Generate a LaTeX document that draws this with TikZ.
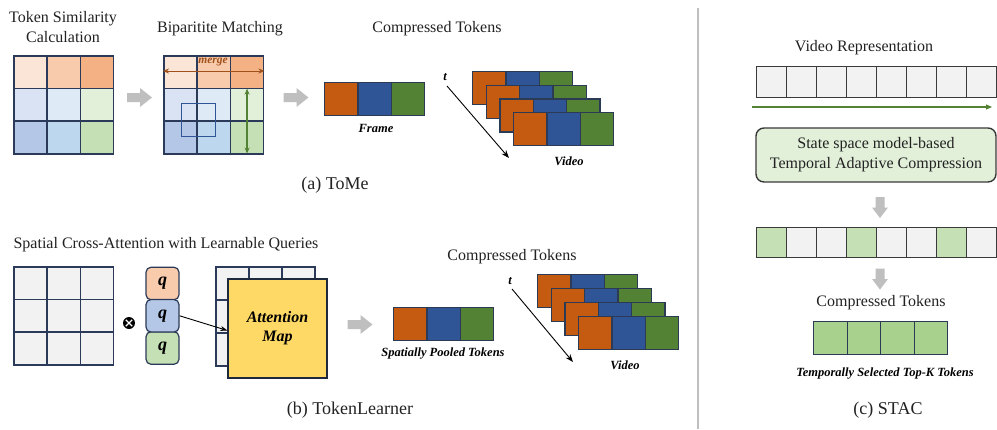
\documentclass[tikz,border=0pt]{standalone}
\usepackage{fontspec}
\setmainfont{Liberation Serif}
\usetikzlibrary{arrows.meta,calc}
\definecolor{pA}{HTML}{FBE5D6}
\definecolor{pB}{HTML}{F8CBAD}
\definecolor{pC}{HTML}{F4B183}
\definecolor{bA}{HTML}{DAE3F3}
\definecolor{bB}{HTML}{DEEBF7}
\definecolor{gA}{HTML}{E2F0D9}
\definecolor{bC}{HTML}{B4C7E7}
\definecolor{bD}{HTML}{BDD7EE}
\definecolor{gB}{HTML}{C5E0B4}
\definecolor{orng}{HTML}{C55A11}
\definecolor{blu}{HTML}{2F5597}
\definecolor{grn}{HTML}{548235}
\definecolor{gridc}{HTML}{2B3A58}
\definecolor{tokc}{HTML}{2B3A55}
\definecolor{lgrey}{HTML}{F2F2F2}
\definecolor{arrg}{HTML}{BFBFBF}
\definecolor{yel}{HTML}{FFD966}
\definecolor{selg}{HTML}{A9D18E}
\definecolor{mergec}{HTML}{A0501A}
\definecolor{txt}{HTML}{222222}
\definecolor{dk}{HTML}{3A3A3A}
\begin{document}
\begin{tikzpicture}[x=1pt,y=-1pt,
  hdr/.style={font=\fontsize{16}{20}\selectfont, text=txt, inner sep=0, align=center},
  captxt/.style={font=\fontsize{18}{20}\selectfont, text=txt, inner sep=0},
  lbl/.style={font=\bfseries\itshape\fontsize{12.5}{14}\selectfont, inner sep=0},
  cell/.style={draw=gridc, line width=1.5pt, minimum width=33.33pt, minimum height=32.67pt, inner sep=0, anchor=north west},
  tok/.style={draw=tokc, line width=1.3pt, minimum width=33.33pt, minimum height=33pt, inner sep=0, anchor=north west},
  scell/.style={draw=dk, line width=1.4pt, minimum width=30pt, minimum height=31pt, inner sep=0, anchor=north west},
  qbox/.style={draw=gridc, line width=1.2pt, rounded corners=5pt, minimum width=33pt, minimum height=32.5pt, inner sep=0, font=\bfseries\itshape\fontsize{18}{18}\selectfont},
  tarrow/.style={-{Stealth[length=8pt,width=6pt]}, line width=0.9pt, black},
  rarrow/.pic={\fill[arrg] (-12.5,-4.5) -- (0.5,-4.5) -- (0.5,-9.5) -- (12.5,0) -- (0.5,9.5) -- (0.5,4.5) -- (-12.5,4.5) -- cycle;},
  darrow/.pic={\fill[arrg] (-4.5,-10.5) -- (4.5,-10.5) -- (4.5,0) -- (8,0) -- (0,10.5) -- (-8,0) -- (-4.5,0) -- cycle;}
]
\useasboundingbox (0,0) rectangle (997,429);
\fill[white] (0,0) rectangle (997,429);

% ---------------- (a) ToMe ----------------
\node[hdr] (h1) at (63,27) {Token Similarity\\Calculation};
\foreach \r/\c/\col in {1/1/pA,1/2/pB,1/3/pC,2/1/bA,2/2/bB,2/3/gA,3/1/bC,3/2/bD,3/3/gB}{
  \node[cell, fill=\col] (g1-\r-\c) at ({13+(\c-1)*33.33},{55+(\r-1)*32.67}) {};
}
\pic at (139.5,97.5) {rarrow};
\node[hdr] (h2) at (220,29) {Biparitite Matching};
\foreach \r/\c/\col in {1/1/pA,1/2/pB,1/3/pC,2/1/bA,2/2/bB,2/3/gA,3/1/bC,3/2/bD,3/3/gB}{
  \node[cell, fill=\col] (g2-\r-\c) at ({163+(\c-1)*33.33},{55+(\r-1)*32.67}) {};
}
\node[draw=blu, line width=1.4pt, minimum width=34pt, minimum height=33pt, inner sep=0, anchor=north west] (win) at (181,103) {};
\coordinate (m0) at (g2-1-1.west |- 0,71);
\coordinate (m1) at (g2-1-3.east |- 0,71);
\draw[{Stealth[length=6pt,width=5pt]}-{Stealth[length=6pt,width=5pt]}, mergec, line width=1pt] (m0) -- (m1);
\node[lbl, text=mergec, font=\bfseries\itshape\fontsize{11.5}{12}\selectfont] (mg) at (213,62) {merge};
\draw[{Stealth[length=6pt,width=5pt]}-{Stealth[length=6pt,width=5pt]}, grn, line width=1.2pt] ($(g2-2-3.north)+(0,1)$) -- ($(g2-3-3.south)+(0,-1)$);
\pic at (296,97.5) {rarrow};

\node[hdr] (h3) at (437,29) {Compressed Tokens};
\node[tok, fill=orng] (fa1) at (324,82) {};
\node[tok, fill=blu] (fa2) at (357.33,82) {};
\node[tok, fill=grn] (fa3) at (390.67,82) {};
\node[lbl] (fr) at (376,128) {Frame};

\node[lbl] (ta) at (445,77) {t};
\coordinate (ta0) at (447,86);
\coordinate (ta1) at (509,158);
\draw[tarrow] (ta0) -- (ta1);
\foreach \k in {0,1,2,3}{
  \node[tok, fill=orng] (va\k-1) at ({472+13.7*\k},{71+13.7*\k}) {};
  \node[tok, fill=blu] (va\k-2) at ({505.33+13.7*\k},{71+13.7*\k}) {};
  \node[tok, fill=grn] (va\k-3) at ({538.67+13.7*\k},{71+13.7*\k}) {};
}
\node[lbl] (vd1) at (569,161) {Video};
\node[captxt] (ca) at (335,185) {(a) ToMe};

% ---------------- (b) TokenLearner ----------------
\node[hdr] (h4) at (166,245) {Spatial Cross-Attention with Learnable Queries};
\foreach \r in {1,2,3}{\foreach \c in {1,2,3}{
  \node[cell, fill=lgrey] (g3-\r-\c) at ({13+(\c-1)*33.33},{266+(\r-1)*32.67}) {};
}}
\node[circle, fill=black, minimum size=12pt, inner sep=0] (ot) at (129,323) {};
\draw[white, line width=1.3pt] ($(ot.center)+(-3.2,-3.2)$) -- ($(ot.center)+(3.2,3.2)$);
\draw[white, line width=1.3pt] ($(ot.center)+(-3.2,3.2)$) -- ($(ot.center)+(3.2,-3.2)$);
\node[qbox, fill=pB] (q1) at (162.5,283.5) {q};
\node[qbox, fill=gB] (q3) at (162.5,348) {q};
\node[qbox, fill=bC] (q2) at (162.5,315.8) {q};
\foreach \r in {1,2,3}{\foreach \c in {1,2,3}{
  \node[cell, fill=lgrey, minimum width=33pt, minimum height=33pt] (g4-\r-\c) at ({215+(\c-1)*33},{266+(\r-1)*33}) {};
}}
\node[draw=gridc!70!black, line width=1.2pt, fill=yel, minimum width=99pt, minimum height=99pt, inner sep=0, align=center, font=\bfseries\itshape\fontsize{16}{19}\selectfont] (att) at (277.5,328.5) {Attention\\Map};
\draw[-{Stealth[length=7pt,width=5pt]}, line width=0.9pt, black] (q2.east) -- ($(att.west)+(0,2)$);
\pic at (360,324.5) {rarrow};
\node[tok, fill=orng] (fb1) at (393,307) {};
\node[tok, fill=blu] (fb2) at (426.33,307) {};
\node[tok, fill=grn] (fb3) at (459.67,307) {};
\node[lbl] (sp) at (443,354) {Spatially Pooled Tokens};
\node[hdr] (h5) at (512,257) {Compressed Tokens};
\node[lbl] (tb) at (510,281) {t};
\coordinate (tb0) at (512,289);
\coordinate (tb1) at (573,362);
\draw[tarrow] (tb0) -- (tb1);
\foreach \k in {0,1,2,3}{
  \node[tok, fill=orng] (vb\k-1) at ({537+13.7*\k},{274+14*\k}) {};
  \node[tok, fill=blu] (vb\k-2) at ({570.33+13.7*\k},{274+14*\k}) {};
  \node[tok, fill=grn] (vb\k-3) at ({603.67+13.7*\k},{274+14*\k}) {};
}
\node[lbl] (vd2) at (625,365) {Video};
\node[captxt] (cb) at (350,410) {(b) TokenLearner};

% ---------------- divider ----------------
\coordinate (dv0) at (698,8);
\coordinate (dv1) at (698,429);
\draw[arrg, line width=2pt] (dv0) -- (dv1);

% ---------------- (c) STAC ----------------
\node[hdr] (h6) at (864,48) {Video Representation};
\foreach \i in {1,...,8}{
  \node[scell, fill=lgrey] (r1-\i) at ({756+(\i-1)*30},66) {};
}
\coordinate (ga0) at (752,107);
\coordinate (ga1) at (992,107);
\draw[-{Triangle[length=6pt,width=5pt]}, grn, line width=1.1pt] (ga0) -- (ga1);
\node[draw=dk, line width=1.4pt, fill=gA, rounded corners=8pt, minimum width=240pt, minimum height=54pt, inner sep=0, align=center, font=\fontsize{16}{20}\selectfont, text=txt] (ssm) at (876,155) {State space model-based\\Temporal Adaptive Compression};
\pic at (880,207.5) {darrow};
\foreach \i/\col in {1/gB,2/lgrey,3/lgrey,4/gB,5/lgrey,6/lgrey,7/gB,8/lgrey}{
  \node[scell, fill=\col, minimum height=30pt] (r2-\i) at ({756+(\i-1)*30},227) {};
}
\pic at (880,279) {darrow};
\node[hdr] (h7) at (881,303) {Compressed Tokens};
\foreach \i in {1,...,4}{
  \node[tok, fill=selg, minimum width=33.5pt] (s-\i) at ({813+(\i-1)*33.5},321) {};
}
\node[lbl] (ts) at (885,374) {Temporally Selected Top-K Tokens};
\node[captxt] (cc) at (888,410) {(c) STAC};
\end{tikzpicture}
\end{document}
